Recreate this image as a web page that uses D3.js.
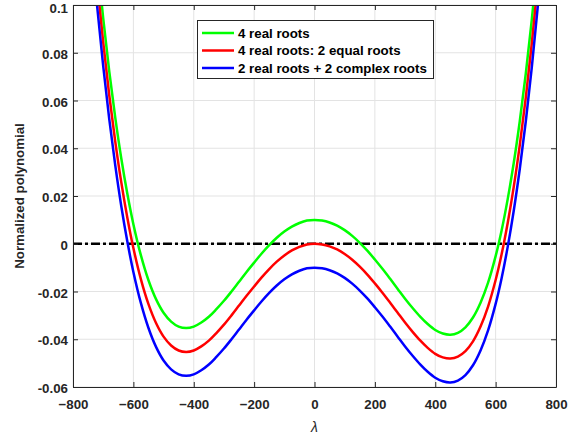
<!DOCTYPE html>
<html>
<head>
<meta charset="utf-8">
<script src="https://cdn.jsdelivr.net/npm/d3@7"></script>
<style>
  html, body { margin: 0; padding: 0; background: #fff; }
  svg { display: block; font-family: "Liberation Sans", Arial, Helvetica, sans-serif; }
</style>
</head>
<body>
<svg id="chart" width="568" height="437"></svg>
<script>
// Sample positions along the lambda axis
const lambda = [-740,-720,-700,-680,-660,-640,-620,-600,-575,-550,-525,-500,-475,-450,-425,-400,-375,-350,-325,-300,-275,-250,-225,-200,-175,-150,-125,-100,-75,-50,-25,0,25,50,75,100,125,150,175,200,225,250,275,300,325,350,375,400,425,450,475,500,525,550,575,600,620,640,660,680,700,720,740,760];

// Normalized polynomial values for each case
const fourReal = [0.1474,0.1194,0.0945,0.0723,0.0528,0.0357,0.0209,0.0082,-0.0049,-0.0153,-0.0232,-0.0289,-0.0326,-0.0347,-0.0353,-0.0347,-0.0330,-0.0306,-0.0274,-0.0239,-0.0200,-0.0159,-0.0118,-0.0079,-0.0041,-0.0006,0.0025,0.0051,0.0072,0.0087,0.0097,0.0100,0.0097,0.0089,0.0076,0.0057,0.0033,0.0004,-0.0029,-0.0066,-0.0105,-0.0146,-0.0188,-0.0230,-0.0269,-0.0305,-0.0336,-0.0361,-0.0376,-0.0381,-0.0373,-0.0350,-0.0309,-0.0247,-0.0163,-0.0052,0.0057,0.0187,0.0338,0.0513,0.0713,0.0941,0.1198,0.1486];
const twoEqual = [0.1374,0.1094,0.0845,0.0623,0.0428,0.0257,0.0109,-0.0018,-0.0149,-0.0253,-0.0332,-0.0389,-0.0426,-0.0447,-0.0453,-0.0447,-0.0430,-0.0406,-0.0374,-0.0339,-0.0300,-0.0259,-0.0218,-0.0179,-0.0141,-0.0106,-0.0075,-0.0049,-0.0028,-0.0013,-0.0003,0.0000,-0.0003,-0.0011,-0.0024,-0.0043,-0.0067,-0.0096,-0.0129,-0.0166,-0.0205,-0.0246,-0.0288,-0.0330,-0.0369,-0.0405,-0.0436,-0.0461,-0.0476,-0.0481,-0.0473,-0.0450,-0.0409,-0.0347,-0.0263,-0.0152,-0.0043,0.0087,0.0238,0.0413,0.0613,0.0841,0.1098,0.1386];
const twoComplex = [0.1274,0.0994,0.0745,0.0523,0.0328,0.0157,0.0009,-0.0118,-0.0249,-0.0353,-0.0432,-0.0489,-0.0526,-0.0547,-0.0553,-0.0547,-0.0530,-0.0506,-0.0474,-0.0439,-0.0400,-0.0359,-0.0318,-0.0279,-0.0241,-0.0206,-0.0175,-0.0149,-0.0128,-0.0113,-0.0103,-0.0100,-0.0103,-0.0111,-0.0124,-0.0143,-0.0167,-0.0196,-0.0229,-0.0266,-0.0305,-0.0346,-0.0388,-0.0430,-0.0469,-0.0505,-0.0536,-0.0561,-0.0576,-0.0581,-0.0573,-0.0550,-0.0509,-0.0447,-0.0363,-0.0252,-0.0143,-0.0013,0.0138,0.0313,0.0513,0.0741,0.0998,0.1286];

const seriesNames = ["4 real roots", "4 real roots: 2 equal roots", "2 real roots + 2 complex roots"];
const seriesColors = ["#00ff00", "#ff0000", "#0000ff"];
const seriesValues = [fourReal, twoEqual, twoComplex];

const xTicks = [-800,-600,-400,-200,0,200,400,600,800];
const yTicks = [-0.06,-0.04,-0.02,0,0.02,0.04,0.06,0.08,0.1];
const yTickLabels = ["-0.06","-0.04","-0.02","0","0.02","0.04","0.06","0.08","0.1"];

const axisColor = "#262626";
const plotLeft = 73, plotRight = 556, plotTop = 5, plotBottom = 387;

const svg = d3.select("#chart");
const x = d3.scaleLinear().domain([-800, 800]).range([plotLeft, plotRight]);
const y = d3.scaleLinear().domain([-0.06, 0.1]).range([plotBottom, plotTop]);

svg.append("defs").append("clipPath").attr("id", "plotClip")
  .append("rect").attr("x", plotLeft).attr("y", plotTop)
  .attr("width", plotRight - plotLeft).attr("height", plotBottom - plotTop);

// Grid
const grid = svg.append("g");
grid.selectAll("line.gx").data(xTicks).join("line")
  .attr("x1", d => x(d)).attr("x2", d => x(d))
  .attr("y1", plotTop).attr("y2", plotBottom)
  .attr("stroke", "#e3e3e3").attr("stroke-width", 1);
grid.selectAll("line.gy").data(yTicks).join("line")
  .attr("y1", d => y(d)).attr("y2", d => y(d))
  .attr("x1", plotLeft).attr("x2", plotRight)
  .attr("stroke", "#e3e3e3").attr("stroke-width", 1);

// Curves
const plot = svg.append("g").attr("clip-path", "url(#plotClip)");
const line = d3.line()
  .x(d => x(d[0])).y(d => y(d[1]))
  .curve(d3.curveCatmullRom.alpha(0.5));

// Zero reference line
plot.append("line")
  .attr("x1", x(-800)).attr("x2", x(800))
  .attr("y1", y(0)).attr("y2", y(0))
  .attr("stroke", "#000").attr("stroke-width", 2.4)
  .attr("stroke-dasharray", "9,3,3,3");

seriesValues.forEach((vals, i) => {
  plot.append("path")
    .datum(lambda.map((l, j) => [l, vals[j]]))
    .attr("fill", "none")
    .attr("stroke", seriesColors[i])
    .attr("stroke-width", 2.5)
    .attr("d", line);
});

// Axes (box with inward ticks on all sides)
const fontSize = "13.3px";
const axBottom = d3.axisBottom(x).tickValues(xTicks).tickSizeInner(-5).tickSizeOuter(0).tickPadding(12.5);
const axTop = d3.axisTop(x).tickValues(xTicks).tickSizeInner(-5).tickSizeOuter(0).tickFormat("");
const axLeft = d3.axisLeft(y).tickValues(yTicks).tickSizeInner(-5).tickSizeOuter(0).tickPadding(5)
  .tickFormat((d, i) => yTickLabels[i]);
const axRight = d3.axisRight(y).tickValues(yTicks).tickSizeInner(-5).tickSizeOuter(0).tickFormat("");

function styleAxis(g) {
  g.select(".domain").attr("stroke", axisColor).attr("stroke-width", 1);
  g.selectAll(".tick line").attr("stroke", axisColor);
  g.selectAll(".tick text").attr("fill", axisColor)
    .style("font-size", fontSize).style("font-weight", "bold");
}
svg.append("g").attr("transform", `translate(0,${plotBottom})`).call(axBottom).call(styleAxis);
svg.append("g").attr("transform", `translate(0,${plotTop})`).call(axTop).call(styleAxis);
const gLeft = svg.append("g").attr("transform", `translate(${plotLeft},0)`).call(axLeft).call(styleAxis);
// nudge y labels slightly down; keep the top label inside the canvas
gLeft.selectAll(".tick text").attr("y", d => d === 0.1 ? 3 : 1.3);
svg.append("g").attr("transform", `translate(${plotRight},0)`).call(axRight).call(styleAxis);

// Axis labels
svg.append("text")
  .attr("x", x(0)).attr("y", 432)
  .attr("text-anchor", "middle")
  .attr("fill", axisColor)
  .style("font-size", "14px").style("font-style", "italic")
  .text("λ");
svg.append("text")
  .attr("transform", `translate(24,${(plotTop + plotBottom) / 2}) rotate(-90)`)
  .attr("text-anchor", "middle")
  .attr("fill", axisColor)
  .style("font-size", fontSize).style("font-weight", "bold")
  .text("Normalized polynomial");

// Legend
const legend = svg.append("g");
legend.append("rect")
  .attr("x", 197.5).attr("y", 20.5).attr("width", 236).attr("height", 58)
  .attr("fill", "#fff").attr("stroke", axisColor).attr("stroke-width", 1);
seriesNames.forEach((name, i) => {
  const cy = 33 + i * 17.5;
  legend.append("line")
    .attr("x1", 202).attr("x2", 234).attr("y1", cy).attr("y2", cy)
    .attr("stroke", seriesColors[i]).attr("stroke-width", 2.5);
  legend.append("text")
    .attr("x", 238).attr("y", cy + 4.6)
    .attr("fill", "#000")
    .style("font-size", fontSize).style("font-weight", "bold")
    .text(name);
});
</script>
</body>
</html>
